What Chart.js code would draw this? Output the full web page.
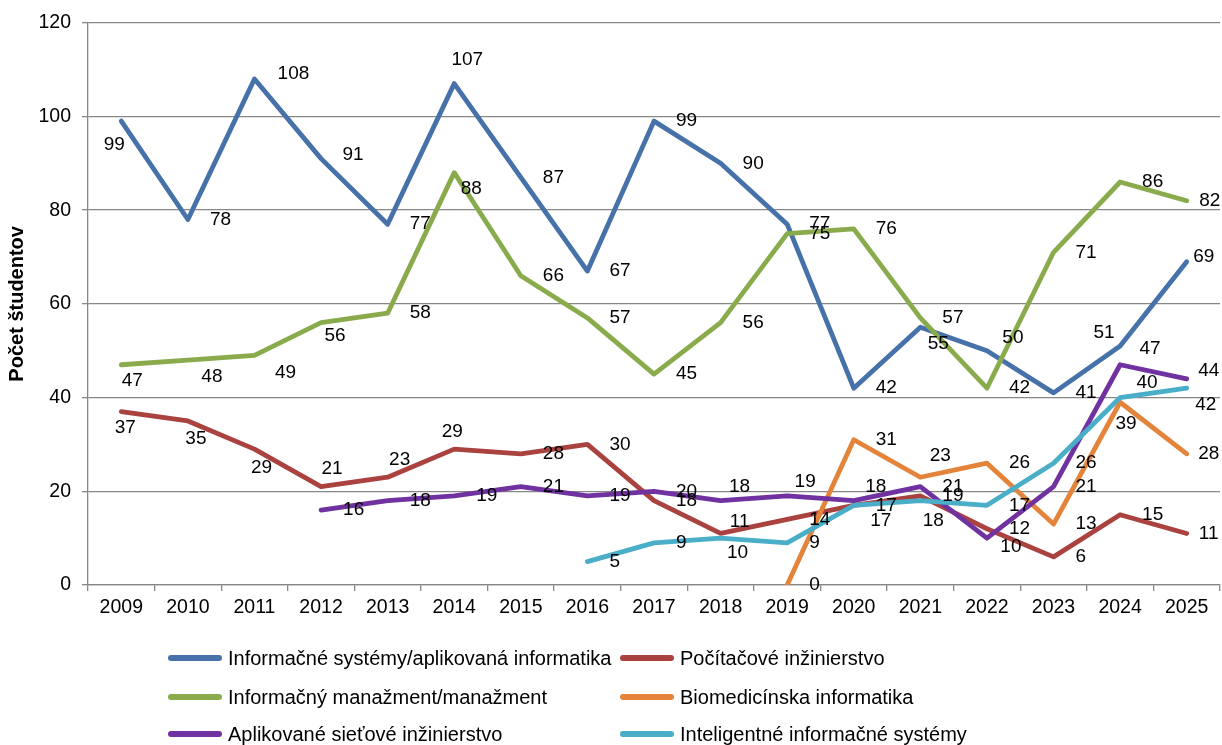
<!DOCTYPE html>
<html lang="sk">
<head>
<meta charset="utf-8">
<title>Počet študentov</title>
<script src="https://cdn.jsdelivr.net/npm/chart.js@4.4.1/dist/chart.umd.min.js"></script>
<style>
  html, body { margin: 0; padding: 0; background: #ffffff; }
  #wrap { width: 1222px; height: 745px; }
</style>
</head>
<body>
<div id="wrap"><canvas id="chart" width="1222" height="745"></canvas></div>
<script>
// Academic years shown on the category axis
const years = ['2009','2010','2011','2012','2013','2014','2015','2016','2017','2018','2019','2020','2021','2022','2023','2024','2025'];

// Student counts per study programme (null = programme not yet opened)
const infoSystems = [99, 78, 108, 91, 77, 107, 87, 67, 99, 90, 77, 42, 55, 50, 41, 51, 69];
const compEng     = [37, 35, 29, 21, 23, 29, 28, 30, 18, 11, 14, 17, 19, 12, 6, 15, 11];
const infoMgmt    = [47, 48, 49, 56, 58, 88, 66, 57, 45, 56, 75, 76, 57, 42, 71, 86, 82];
const biomed      = [null, null, null, null, null, null, null, null, null, null, 0, 31, 23, 26, 13, 39, 28];
const netEng      = [null, null, null, 16, 18, 19, 21, 19, 20, 18, 19, 18, 21, 10, 21, 47, 44];
const intelSys    = [null, null, null, null, null, null, null, 5, 9, 10, 9, 17, 18, 17, 26, 40, 42];

// Programme names used in the legend
const seriesNames = [
  'Informačné systémy/aplikovaná informatika',
  'Počítačové inžinierstvo',
  'Informačný manažment/manažment',
  'Biomedicínska informatika',
  'Aplikované sieťové inžinierstvo',
  'Inteligentné informačné systémy'
];

// Y axis range
const yMin = 0, yMax = 120, yStep = 20;

const colors = ['#4671a9', '#aa4340', '#8aab4c', '#e3843a', '#7032a0', '#4aaec9'];
const FONT = "'Liberation Sans', Arial, Helvetica, sans-serif";

// Value labels sit to the right of each point; a few are nudged
// (centre offset in px from the point) so they do not collide.
const labelNudge = [
  { '2009': [-7, 24], '2011': [39, -5], '2012': [32, -4], '2014': [13, -24], '2021': [18, 16], '2022': [26, -13], '2024': [-16, -13], '2025': [17, -5] },
  { '2009': [4, 16], '2010': [8, 18], '2011': [7, 19], '2012': [11, -18], '2013': [12, -17], '2014': [-2, -17], '2018': [19, -12], '2020': [27, 15], '2025': [22, 0] },
  { '2009': [11, 16], '2010': [24, 17], '2011': [31, 17], '2012': [14, 13], '2014': [17, 16], '2025': [23, 0] },
  { '2021': [20, -21], '2024': [6, 22], '2025': [22, 0] },
  { '2018': [19, -14], '2019': [18, -14], '2020': [22, -14], '2022': [24, 9], '2024': [30, -16], '2025': [22, -8] },
  { '2018': [17, 15], '2021': [13, 20], '2024': [27, -15], '2025': [19, 17] }
];

const seriesData = [infoSystems, compEng, infoMgmt, biomed, netEng, intelSys];

const datasets = seriesData.map((values, i) => ({
  label: seriesNames[i],
  data: values,
  borderColor: colors[i],
  backgroundColor: colors[i],
  borderWidth: 4.8,
  pointRadius: 0,
  pointHoverRadius: 0,
  tension: 0,
  fill: false,
  spanGaps: false,
  borderCapStyle: 'round',
  borderJoinStyle: 'round',
  order: seriesData.length - i
}));

// Draws the numeric value next to every point
const valueLabels = {
  id: 'valueLabels',
  afterDatasetsDraw(chart) {
    const ctx = chart.ctx;
    ctx.save();
    ctx.font = '19px ' + FONT;
    ctx.fillStyle = '#000000';
    ctx.textBaseline = 'middle';
    chart.data.datasets.forEach((ds, di) => {
      const meta = chart.getDatasetMeta(di);
      meta.data.forEach((pt, idx) => {
        const v = ds.data[idx];
        if (v === null || v === undefined) return;
        const year = chart.data.labels[idx];
        const nudge = labelNudge[di][year];
        if (nudge) {
          ctx.textAlign = 'center';
          ctx.fillText(String(v), pt.x + nudge[0], pt.y + nudge[1]);
        } else {
          ctx.textAlign = 'left';
          ctx.fillText(String(v), pt.x + 22, pt.y);
        }
      });
    });
    ctx.restore();
  }
};

// Two-column legend under the plot
const legendGrid = {
  id: 'legendGrid',
  afterDraw(chart) {
    const ctx = chart.ctx;
    const colX = [168, 620];
    const rowY = [658, 697, 734];
    const sampleLen = 54;
    ctx.save();
    ctx.font = '20px ' + FONT;
    ctx.textBaseline = 'middle';
    ctx.textAlign = 'left';
    chart.data.datasets.forEach((ds, i) => {
      const x = colX[i % 2];
      const y = rowY[Math.floor(i / 2)];
      ctx.strokeStyle = ds.borderColor;
      ctx.lineWidth = 6;
      ctx.lineCap = 'round';
      ctx.beginPath();
      ctx.moveTo(x + 3, y);
      ctx.lineTo(x + sampleLen - 3, y);
      ctx.stroke();
      ctx.fillStyle = '#000000';
      ctx.fillText(ds.label, x + sampleLen + 6, y + 1);
    });
    ctx.restore();
  }
};

const gridGray = '#878787';

new Chart(document.getElementById('chart'), {
  type: 'line',
  data: { labels: years, datasets },
  plugins: [valueLabels, legendGrid],
  options: {
    responsive: false,
    animation: false,
    devicePixelRatio: 1,
    layout: { padding: { left: 0, right: 2, top: 20, bottom: 120 } },
    plugins: {
      legend: { display: false },
      tooltip: { enabled: false }
    },
    scales: {
      x: {
        type: 'category',
        offset: true,
        grid: {
          display: true,
          offset: true,
          drawOnChartArea: false,
          drawTicks: true,
          tickLength: 6,
          color: gridGray,
          lineWidth: 1.3
        },
        border: { display: true, color: gridGray, width: 1.3 },
        ticks: {
          color: '#000000',
          font: { family: FONT, size: 19.5 },
          padding: 5,
          maxRotation: 0,
          autoSkip: false
        },
        afterFit(scale) { scale.height = 40; }
      },
      y: {
        min: yMin,
        max: yMax,
        grid: {
          color: gridGray,
          lineWidth: 1.3,
          drawTicks: true,
          tickLength: 6
        },
        border: { display: true, color: gridGray, width: 1.3 },
        ticks: {
          stepSize: yStep,
          color: '#000000',
          font: { family: FONT, size: 19.5 },
          padding: 11
        },
        title: {
          display: true,
          text: 'Počet študentov',
          color: '#000000',
          font: { family: FONT, size: 20, weight: 'bold' },
          padding: { top: 5, bottom: 0 }
        },
        afterFit(scale) { scale.width = 88; }
      }
    }
  }
});
</script>
</body>
</html>
